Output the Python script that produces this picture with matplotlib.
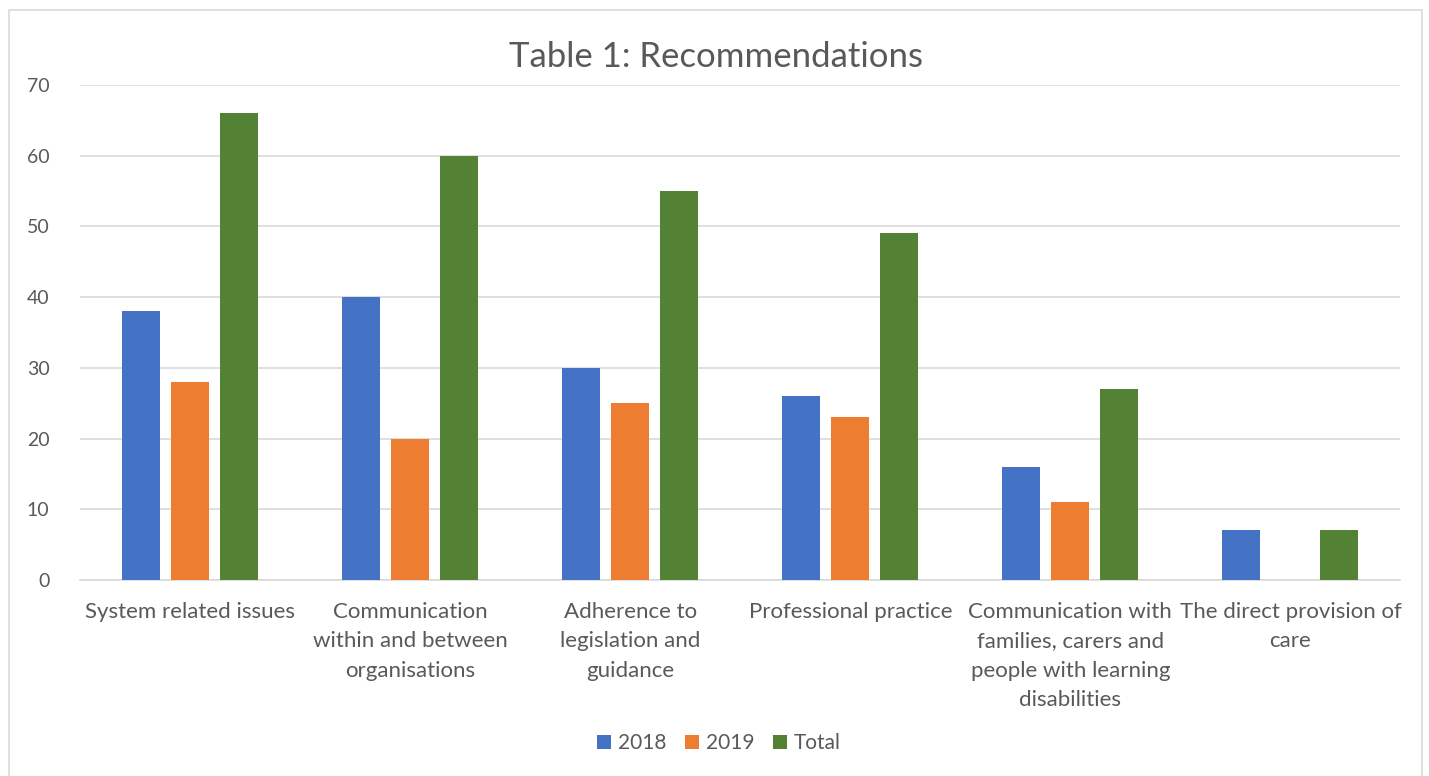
import numpy as np
import matplotlib.pyplot as plt
from matplotlib.patches import Rectangle

categories = ['System related issues',
              'Communication\nwithin and between\norganisations',
              'Adherence to\nlegislation and\nguidance',
              'Professional practice',
              'Communication with\nfamilies, carers and\npeople with learning\ndisabilities',
              'The direct provision of\ncare']
vals_2018 = [38, 40, 30, 26, 16, 7]
vals_2019 = [28, 20, 25, 23, 11, 0]
vals_total = [66, 60, 55, 49, 27, 7]

plt.rcParams['font.family'] = ['Lato', 'DejaVu Sans']

fig = plt.figure(figsize=(14.29, 7.76), dpi=100)
ax = fig.add_axes([0.056, 0.2526, 0.924, 0.6379])

x = np.arange(len(categories))
w = 0.173
off = 0.223
ax.bar(x - off, vals_2018, w, color='#4472C4', label='2018', zorder=3)
ax.bar(x, vals_2019, w, color='#ED7D31', label='2019', zorder=3)
ax.bar(x + off, vals_total, w, color='#548235', label='Total', zorder=3)

ax.set_xlim(-0.5, len(categories) - 0.5)
ax.set_ylim(0, 70)
ax.set_yticks(range(0, 71, 10))
ax.grid(axis='y', color='#D9D9D9', linewidth=1.2, zorder=0)
for s in ['top', 'right', 'left']:
    ax.spines[s].set_visible(False)
ax.spines['bottom'].set_color('#D9D9D9')
ax.spines['bottom'].set_linewidth(1.2)
ax.tick_params(length=0, labelcolor='#595959', labelsize=14)
ax.tick_params(axis='y', pad=22)
ax.tick_params(axis='x', pad=16, labelsize=16)
ax.set_xticks(x)
ax.set_xticklabels(categories, linespacing=1.58, va='top')

fig.text(0.501, 0.926, 'Table 1: Recommendations', ha='center', va='center',
         fontsize=25, color='#595959')

ax.legend(loc='center', bbox_to_anchor=(0.503, 0.042), bbox_transform=fig.transFigure,
          ncol=3, frameon=False, fontsize=15, labelcolor='#595959',
          handlelength=0.7, handleheight=0.7, handletextpad=0.3, columnspacing=0.9)

fig.patches.append(Rectangle((0.006, -0.01), 0.989, 0.997, transform=fig.transFigure,
                             fill=False, edgecolor='#D9D9D9', linewidth=1.2))

fig.savefig('out.png', dpi=100)
